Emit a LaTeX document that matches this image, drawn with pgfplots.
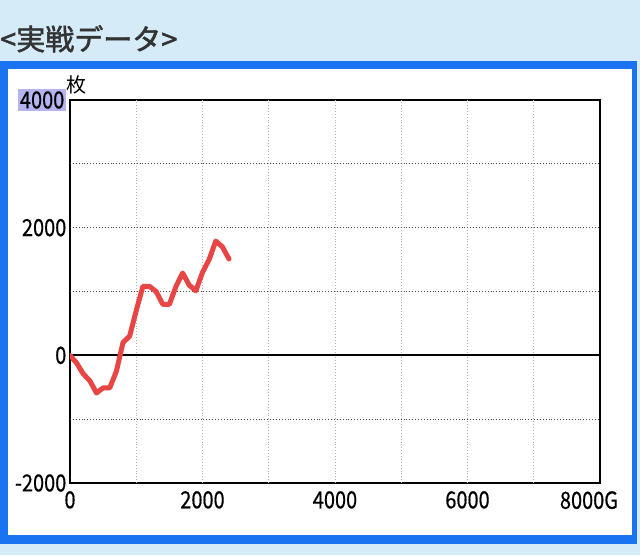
\documentclass[border=0pt]{standalone}
\usepackage{fontspec}
\usepackage{pgfplots}
\pgfplotsset{compat=1.18}
\setmainfont{Noto Sans CJK JP}
\newfontfamily\tickfont[FakeStretch=0.85,FakeBold=0.5]{Noto Sans CJK JP}
\newfontfamily\titlefont[FakeBold=1.8]{Noto Sans CJK JP}
\definecolor{bgblue}{HTML}{D6EBF8}
\definecolor{frameblue}{HTML}{1A73F0}
\definecolor{hl}{HTML}{B4B4F0}
\definecolor{redline}{HTML}{E84545}
\setlength{\fboxsep}{2pt}
\begin{document}
\begin{tikzpicture}[x=1pt,y=1pt]
\useasboundingbox (0,0) rectangle (640,555);
\fill[bgblue] (0,0) rectangle (640,555);
\fill[frameblue] (0,11) rectangle (637,494);
\fill[white] (8,20) rectangle (632,486);
\node[anchor=base west, inner sep=0, text=black!80, font=\titlefont\fontsize{29}{30}\selectfont] at (0,505) {<実戦データ>};
\node[anchor=west, inner sep=0, font=\fontsize{20}{21}\selectfont] at (66,470) {枚};
\begin{axis}[at={(70pt,72pt)}, anchor=south west, scale only axis,
  width=530pt, height=383pt,
  xmin=0, xmax=8000, ymin=-2000, ymax=4000,
  xtick={0,1000,...,8000}, xticklabels={0,,2000,,4000,,6000,,\hspace*{-22pt}8000G},
  ytick={-2000,-1000,...,4000}, yticklabels={-2000,,0,,2000,,{\colorbox{hl}{4000}}},
  major tick length=0pt, tick style={draw=none},
  axis line style={line width=1.3pt},
  tick label style={font=\tickfont\fontsize{23.5}{24}\selectfont},
  xticklabel style={inner sep=2pt, yshift=-6pt},
  yticklabel style={inner sep=3.5pt},
  ]
\pgfplotsinvokeforeach{1000,2000,...,7000}{\draw[gray!60, dotted, line width=0.9pt] (axis cs:#1,-2000) -- (axis cs:#1,4000);}
\pgfplotsinvokeforeach{-1000,1000,2000,3000}{\draw[black!70, dotted, line width=0.9pt] (axis cs:0,#1) -- (axis cs:8000,#1);}
\draw[black, line width=2pt] (axis cs:0,0) -- (axis cs:8000,0);
\addplot[redline, line width=5pt, line join=round, line cap=round] coordinates {
(0,0) (100,-120) (200,-290) (300,-400) (400,-590) (500,-510) (600,-510)
(700,-250) (800,200) (900,300) (1000,700) (1100,1080) (1200,1080)
(1300,1000) (1400,800) (1500,800) (1600,1080) (1700,1290) (1800,1100)
(1900,1010) (2000,1300) (2100,1500) (2200,1790) (2300,1700) (2400,1510)
};
\end{axis}
\end{tikzpicture}
\end{document}
